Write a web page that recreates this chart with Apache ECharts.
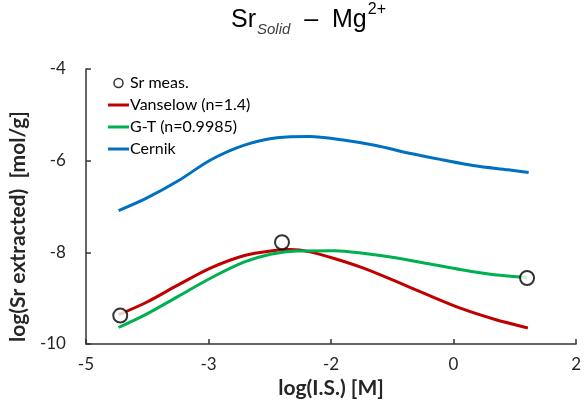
<!DOCTYPE html>
<html>
<head>
<meta charset="utf-8">
<script src="https://cdn.jsdelivr.net/npm/echarts@6/dist/echarts.min.js"></script>
<style>html,body{margin:0;padding:0;background:#fff}#c{width:584px;height:407px}</style>
</head>
<body>
<div id="c"></div>
<script>
// Data
const xTickLabels = ['-5', '-3', '-2', '0', '2'];
const yTickLabels = ['-10', '-8', '-6', '-4'];

const measX = [-4.08, -2.10, 0.90];
const measY = [-9.38, -7.78, -8.56];

const vanX = [-4.10, -3.77, -3.37, -2.97, -2.56, -2.24, -2.00, -1.76, -1.45, -1.11, -0.71, -0.30, 0.10, 0.50, 0.91];
const vanY = [-9.36, -9.10, -8.71, -8.34, -8.07, -7.97, -7.94, -7.99, -8.14, -8.34, -8.63, -8.94, -9.23, -9.46, -9.65];

const gtX = [-4.10, -3.77, -3.37, -2.97, -2.56, -2.24, -1.92, -1.45, -1.11, -0.71, -0.30, 0.10, 0.50, 0.90];
const gtY = [-9.64, -9.36, -8.96, -8.56, -8.21, -8.04, -7.97, -7.965, -8.02, -8.12, -8.25, -8.38, -8.49, -8.55];

const cerX = [-4.10, -3.77, -3.37, -2.97, -2.56, -2.16, -1.76, -1.35, -0.95, -0.54, -0.14, 0.26, 0.67, 0.92];
const cerY = [-7.09, -6.83, -6.44, -5.98, -5.66, -5.50, -5.47, -5.55, -5.67, -5.84, -5.98, -6.11, -6.20, -6.26];

const names = ['Sr meas.', 'Vanselow (n=1.4)', 'G-T (n=0.9985)', 'Cernik'];
const colors = ['#000000', '#C00000', '#00B050', '#0070C0'];

const zip = (a, b) => a.map((v, i) => [v, b[i]]);
const FONT = 'Lato';
const LINE_ICON = 'path://M0,0H21V3H0Z';

const chart = echarts.init(document.getElementById('c'), null, {renderer: 'canvas'});
chart.setOption({
  animation: false,
  backgroundColor: '#fff',
  title: {
    left: 226,
    top: 1,
    text: '{a|Sr}{b|Solid}{a|  –  Mg}{c|2+}',
    textStyle: {
      fontWeight: 'normal',
      rich: {
        a: {fontFamily: 'Liberation Sans', fontSize: 25, fontWeight: 'normal', color: '#000', lineHeight: 29},
        b: {fontFamily: 'Liberation Sans', fontSize: 15, fontWeight: 'normal', fontStyle: 'italic', color: '#404040', verticalAlign: 'bottom', padding: [0, 0, -2, 1]},
        c: {fontFamily: 'Liberation Sans', fontSize: 16, fontWeight: 'normal', color: '#000', verticalAlign: 'top', padding: [-4, 0, 0, 1]}
      }
    }
  },
  grid: {left: 83, right: 5, top: 69, bottom: 63, containLabel: false},
  legend: {
    orient: 'vertical',
    left: 103,
    top: 69,
    itemWidth: 21,
    itemHeight: 9,
    itemGap: 4,
    data: [
      {name: names[0], icon: 'circle', itemStyle: {color: '#fff', borderColor: '#000', borderWidth: 1.5}},
      {name: names[1], icon: LINE_ICON, itemStyle: {color: colors[1], borderWidth: 0}},
      {name: names[2], icon: LINE_ICON, itemStyle: {color: colors[2], borderWidth: 0}},
      {name: names[3], icon: LINE_ICON, itemStyle: {color: colors[3], borderWidth: 0}}
    ],
    textStyle: {fontFamily: FONT, fontSize: 16, color: '#000', lineHeight: 18, padding: [0, 0, 0, -4]}
  },
  xAxis: {
    type: 'value',
    min: -4.5, max: 1.5, interval: 1.5,
    splitLine: {show: false},
    axisLine: {onZero: false, lineStyle: {color: '#333', width: 1.5}},
    axisTick: {inside: true, length: 5, lineStyle: {color: '#333', width: 1.5}},
    axisLabel: {
      margin: 12, fontFamily: FONT, fontSize: 17, color: '#262626',
      formatter: (v, i) => xTickLabels[i]
    },
    name: 'log(I.S.) [M]',
    nameLocation: 'middle',
    nameGap: 33,
    nameTextStyle: {fontFamily: FONT, fontSize: 21, fontWeight: 'bold', color: '#262626'}
  },
  yAxis: {
    type: 'value',
    min: -10, max: -4, interval: 2,
    splitLine: {show: false},
    axisLine: {onZero: false, lineStyle: {color: '#333', width: 1.5}},
    axisTick: {inside: true, length: 5, lineStyle: {color: '#333', width: 1.5}},
    axisLabel: {
      margin: 20, fontFamily: FONT, fontSize: 17, color: '#262626',
      formatter: (v, i) => yTickLabels[i]
    },
    name: 'log(Sr extracted)  [mol/g]',
    nameLocation: 'middle',
    nameGap: 50,
    nameTextStyle: {fontFamily: FONT, fontSize: 21, fontWeight: 'bold', color: '#262626', padding: [0, 40, 0, 0]}
  },
  series: [
    {name: names[1], type: 'line', data: zip(vanX, vanY), smooth: 0.3, symbol: 'none',
     lineStyle: {color: colors[1], width: 3}, itemStyle: {color: colors[1]}, z: 2},
    {name: names[2], type: 'line', data: zip(gtX, gtY), smooth: 0.3, symbol: 'none',
     lineStyle: {color: colors[2], width: 3}, itemStyle: {color: colors[2]}, z: 2},
    {name: names[3], type: 'line', data: zip(cerX, cerY), smooth: 0.3, symbol: 'none',
     lineStyle: {color: colors[3], width: 3}, itemStyle: {color: colors[3]}, z: 2},
    {name: names[0], type: 'scatter', data: zip(measX, measY), symbol: 'emptyCircle', symbolSize: 14,
     itemStyle: {color: '#000', borderColor: '#000', borderWidth: 1.5}, z: 5}
  ]
});
</script>
</body>
</html>
